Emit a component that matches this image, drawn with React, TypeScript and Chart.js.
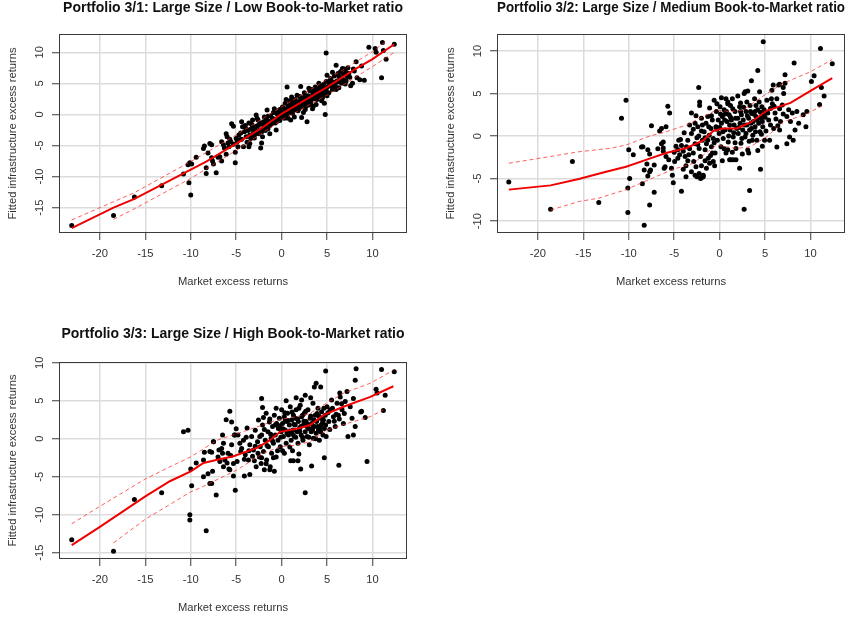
import React, { useEffect, useRef } from "react";
import { Chart, registerables } from "chart.js";
Chart.register(...registerables);

type P = [number, number];

const xTicks = [-20, -15, -10, -5, 0, 5, 10];
const yTicksP1 = [-15, -10, -5, 0, 5, 10];
const yTicksP2 = [-10, -5, 0, 5, 10];
const yTicksP3 = [-15, -10, -5, 0, 5, 10];

const titleP1 = "Portfolio 3/1: Large Size / Low Book-to-Market ratio";
const titleP2 = "Portfolio 3/2: Large Size / Medium Book-to-Market ratio";
const titleP3 = "Portfolio 3/3: Large Size / High Book-to-Market ratio";
const xTitle = "Market excess returns";
const yTitle = "Fitted infrastructure excess returns";

const p1Points: P[] = [
  [-23.1, -17.9], [-18.5, -16.3], [-16.2, -13.3], [-13.2, -11.5],
  [-10.8, -9.6], [-10.3, -8.1], [-10.1, -7.8], [-9.9, -8.0], [-10.2, -11.0], [-10.0, -13.0], [-9.4, -6.9],
  [-8.6, -5.5], [-8.5, -5.1], [-8.3, -8.6], [-8.3, -9.5], [-8.1, -6.2], [-7.9, -4.7], [-7.7, -4.9], [-7.7, -7.0],
  [-7.6, -7.5], [-7.5, -8.0], [-7.2, -9.4], [-7.0, -6.9],
  [-6.8, -6.8], [-6.6, -7.5], [-6.6, -4.4], [-6.3, -5.4], [-6.1, -3.1], [-6.0, -3.6], [-6.1, -6.4], [-5.8, -5.2],
  [-5.5, -1.5], [-5.3, -1.9], [-5.7, -4.0], [-5.6, -4.4], [-5.1, -6.1], [-5.1, -7.8], [-5.3, -4.8], [-5.0, -3.9],
  [-4.7, -3.3], [-4.6, -4.1], [-4.4, -1.2], [-4.3, -2.0], [-4.2, -5.2], [-4.1, -2.8], [-3.9, -3.6], [-3.8, -4.5],
  [-3.6, -5.2], [-3.5, -4.7], [-3.4, -2.4], [-3.3, -1.6], [-3.1, -3.0], [-3.0, -3.8], [-3.2, -0.9], [-2.9, -2.2],
  [-2.8, -0.1], [-2.7, -0.6], [-2.6, -1.8], [-2.5, -3.1], [-2.4, -2.5], [-2.3, -5.4], [-2.2, -4.6], [-2.2, -2.8],
  [-2.1, -3.6], [-2.0, -1.2], [-1.9, -0.4], [-1.8, -1.7], [-1.7, -0.6], [-1.6, 0.7], [-1.5, -2.3], [-1.4, -1.1],
  [-1.3, -3.1], [-1.2, -0.2], [-1.1, -1.5],
  [-4.0, -1.8], [-3.7, -2.6], [-3.5, -3.3], [-3.0, -2.6], [-2.6, -0.9], [-2.4, -1.4], [-1.9, -2.0], [-1.6, -1.1],
  [-1.0, -0.6], [-3.6, -1.4], [-2.9, -3.2], [-2.0, -2.4],
  [-0.9, 0.3], [-0.8, -0.8], [-0.7, -1.4], [-0.6, -2.5], [-0.5, 0.1], [-0.4, -0.5], [-0.3, 0.6], [-0.2, -1.0],
  [-0.1, 0.2], [0.0, -0.3], [0.1, 1.2], [0.2, 0.5], [0.3, -0.6], [0.4, 1.8], [0.5, 0.9], [0.6, 4.4], [0.6, -0.2],
  [0.7, 1.5], [0.8, 0.4], [0.9, 2.2], [1.0, -0.9], [1.0, 1.0], [-0.8, 0.9], [-0.3, -0.3], [0.3, 0.2], [0.7, -0.6],
  [1.1, 2.8], [1.2, 0.2], [1.3, 1.7], [1.4, -0.4], [1.5, 2.4], [1.6, 1.1], [1.7, 3.1], [1.8, 0.6], [1.9, 2.0],
  [2.0, 1.4], [2.1, 4.5], [2.2, -0.5], [2.3, 2.7], [2.4, 1.8], [2.5, 3.5], [2.6, 0.8], [2.7, 2.3], [2.8, -1.2],
  [2.9, 3.0], [3.0, 1.5], [1.2, 1.3], [1.6, 2.0], [2.0, 2.9], [2.4, 0.3], [2.8, 1.9], [1.5, 0.8],
  [3.1, 3.8], [3.2, 2.2], [3.3, 4.0], [3.4, 0.9], [3.5, 3.2], [3.6, 2.5], [3.7, 4.4], [3.8, 1.6], [3.9, 3.6],
  [4.0, 2.8], [4.1, 5.0], [4.2, 3.2], [4.3, 4.2], [4.4, 2.2], [4.5, 3.9], [4.6, 4.8], [4.7, 1.8], [4.8, 0.0],
  [4.8, 3.4], [4.9, 9.9], [4.9, 5.3], [3.3, 2.9], [3.7, 3.0], [4.1, 3.7], [4.5, 2.7], [3.0, 4.2], [3.5, 1.3],
  [5.1, 4.5], [5.2, 3.5], [5.4, 5.8], [5.6, 4.0], [5.8, 6.2], [5.9, 4.6], [6.0, 7.9], [6.1, 5.4], [6.2, 6.6],
  [6.3, 4.3], [6.4, 5.9], [6.5, 6.9], [6.6, 5.0], [6.7, 7.4], [6.8, 5.6], [6.9, 7.3], [7.0, 4.9], [7.2, 6.1],
  [5.3, 4.9], [5.0, 6.3], [5.7, 5.2], [6.0, 4.0],
  [7.3, 7.5], [7.5, 6.0], [7.6, 4.6], [7.8, 5.0], [8.0, 7.0], [8.2, 8.5], [8.3, 5.9], [8.6, 5.6], [9.1, 5.5],
  [8.8, 7.8], [9.6, 10.8], [10.3, 10.6], [10.4, 10.0], [11.0, 5.9], [11.1, 11.6], [11.2, 10.3], [11.5, 8.9],
  [12.4, 11.3], [7.1, 6.8], [7.9, 7.3],
  [-4.9, -4.4], [-4.5, -3.0], [-3.9, -2.3], [-3.4, -3.9], [-3.2, -2.0], [-2.7, -2.8], [-2.3, -1.6], [-1.8, -2.6],
  [-1.5, -0.3], [-1.3, -1.8], [-1.0, -1.3], [-0.7, 0.4], [-0.5, -1.1], [-0.2, 0.8], [0.0, 0.6], [0.2, -0.2],
  [0.4, 0.4], [0.5, 2.4], [0.8, 1.2], [1.0, 0.3], [1.1, 1.8], [1.3, 0.7], [1.4, 2.3], [1.7, 1.5], [1.9, 0.9],
  [2.1, 2.4], [2.2, 1.2], [2.5, 2.1], [2.6, 2.9], [2.7, 1.3], [2.9, 2.4], [3.1, 2.8], [3.2, 1.7], [3.4, 3.6],
  [3.6, 3.0], [3.8, 4.0], [3.9, 2.4], [4.0, 3.3], [4.2, 4.4], [4.4, 3.4], [4.6, 3.2], [4.7, 4.3], [4.9, 4.0],
  [5.0, 3.0], [5.2, 5.3], [5.5, 4.6], [5.8, 5.0], [6.2, 5.2], [6.5, 5.4], [6.8, 6.5], [7.1, 5.4], [7.4, 6.6],
  [5.6, 6.8], [6.3, 6.2], [-6.4, -4.9], [-5.9, -4.6], [-4.8, -5.2], [-4.4, -4.0], [-3.3, -3.5], [-2.8, -1.9],
];
const p1Fit: P[] = [
  [-23.1, -18.3], [-18.5, -15.0], [-16.2, -13.6], [-10, -8.9], [-8.3, -7.6], [-5, -4.7], [-2, -2.0],
  [0, 0.1], [2, 1.8], [5, 4.4], [8, 7.2], [10, 8.9], [12.4, 11.3],
];
const p1Upper: P[] = [
  [-23.1, -17.0], [-16.2, -12.6], [-10, -7.6], [-5, -3.3], [0, 1.2], [5, 5.6], [10, 10.1], [11.5, 11.8],
];
const p1Lower: P[] = [
  [-18.5, -16.9], [-16.2, -15.2], [-10, -10.3], [-5, -5.8], [0, -0.9], [5, 3.1], [10, 7.7], [12.4, 10.0],
];

const p2Points: P[] = [
  [-23.2, -5.4], [-18.6, -8.6], [-16.2, -3.0], [-13.3, -7.8], [-10.8, 2.1], [-10.3, 4.2], [-10.1, -9.0],
  [-10.0, -1.6], [-10.1, -6.1], [-9.9, -5.0], [-9.5, -2.2], [-8.6, -1.3], [-8.5, -5.6], [-8.3, -10.5],
  [-8.0, -3.3], [-7.9, -4.7], [-7.7, -8.1], [-7.7, -2.1], [-7.5, 1.2], [-7.6, -4.0], [-7.2, -6.6], [-6.6, 0.6],
  [-6.4, 0.9], [-6.4, -0.9], [-6.2, -1.4], [-6.1, -3.8], [-6.0, -3.6], [-5.9, 1.1], [-5.7, 3.5], [-5.5, 2.7],
  [-5.2, -4.6], [-5.1, -5.5], [-4.2, -6.5], [-3.7, -4.8], [-3.7, -3.5], [-3.1, 2.7], [-2.3, 5.7], [-2.2, 4.0],
  [-2.1, -5.0], [-1.8, -4.6], [-0.8, -2.0], [-0.55, -3.5], [0.7, 4.4], [0.9, 4.0], [1.2, 3.6], [1.1, -2.8],
  [1.5, -2.8], [1.8, -2.8], [2.2, -3.8], [2.7, -8.6], [2.8, 5.2], [3.1, 5.3], [3.3, -6.4], [3.5, 6.5],
  [4.2, 7.7], [4.2, -1.7], [4.5, -3.9], [4.8, 11.1], [5.7, 4.4], [5.9, 6.0], [6.3, -1.3], [6.6, 0.7], [6.6, 6.1],
  [7.0, 5.7], [7.2, 7.2], [7.4, -0.9], [7.7, -0.1], [8.1, -0.5], [8.2, 8.6], [8.5, 2.9], [8.7, 1.5], [9.2, 2.5],
  [9.5, 1.1], [10.1, 6.4], [10.4, 7.1], [11.0, 3.7], [11.1, 10.3], [11.2, 5.7], [11.5, 4.7], [12.4, 8.5],
  [8.0, 2.7], [8.3, 0.7], [7.8, 1.7], [9.6, 2.9],
  [-4.8, -1.2], [-4.6, -1.6], [-4.4, -2.2], [-4.2, -1.1], [-4.0, -1.8], [-3.8, -2.4], [-3.65, -1.25],
  [-3.5, -0.5], [-3.3, 1.3], [-3.1, 0.3], [-2.9, -2.0], [-2.85, -3.0], [-2.7, -0.9], [-2.6, -3.6], [-2.5, -0.2],
  [-2.4, 1.1], [-2.25, -1.45], [-2.2, 3.6], [-2.1, -2.4], [-2.0, 2.1], [-1.9, -0.5], [-1.8, -4.8], [-1.7, 0.5],
  [-1.6, -1.6], [-1.5, 1.5], [-1.45, -0.9], [-1.3, 2.3], [-1.25, -2.6], [-1.15, 0.1], [-1.1, 3.3], [-0.95, 0.9],
  [-0.9, -1.25], [-0.8, 1.9], [-0.7, -0.3], [-0.6, 4.2], [-0.5, -2.0], [-0.4, 1.1], [-0.35, 2.9], [-0.25, -0.5],
  [-0.15, 1.9], [-0.05, 0.3], [0.05, 3.45], [0.15, -1.25], [0.2, 1.5], [0.3, 2.3], [0.4, -0.3], [0.5, 3.1],
  [0.6, 0.7], [0.7, -2.0], [0.8, 1.7], [0.9, 3.8], [0.95, -0.7], [1.05, 2.5], [1.15, 0.7], [1.25, -2.8],
  [1.3, 1.9], [1.4, 4.4], [1.5, -0.1], [1.6, 1.3], [1.7, 2.9], [1.8, -1.45], [1.9, 0.9], [2.0, 2.1], [2.05, 0.3],
  [2.2, 3.45], [2.25, 1.5], [2.35, -0.85], [2.4, 2.5], [2.55, 0.7], [2.6, 1.9], [2.7, 5.0], [2.8, -0.1],
  [2.9, 2.9], [3.0, 1.3], [3.1, -1.65], [3.2, 2.1], [3.3, 0.7], [3.35, 3.6], [3.45, 1.5], [3.55, 2.65],
  [3.65, 0.1], [3.7, 1.7], [3.85, 4.4], [3.9, 1.1], [4.0, 2.3], [4.1, -0.5], [4.2, 3.1], [4.3, 1.5], [4.4, 5.2],
  [4.45, 0.5], [4.6, 2.1], [4.65, 3.45], [4.75, 1.1], [4.85, 2.5], [4.95, -0.5],
  [5.2, 4.2], [5.4, 1.9], [5.6, 3.25], [5.75, 5.4], [5.95, 0.9], [6.1, 2.7], [6.3, 4.4], [6.5, 6.0], [6.7, 1.7],
  [6.9, 3.65], [7.05, 5.0], [7.2, 6.2], [7.4, 2.3], [7.6, 3.1],
  [-3.1, -4.2], [-2.7, -4.6], [-2.5, -4.8], [-2.25, -4.4], [-2.0, -4.9], [-1.45, -3.8], [-1.1, -3.2],
  [-8.45, -1.25], [-7.9, -1.6], [-6.2, -0.7], [-7.7, -4.2], [-7.2, -3.4], [-8.3, -4.0], [-6.2, -1.8],
  [-5.9, -2.4], [-5.3, -3.8], [-4.95, -3.0], [-4.6, -2.6],
  [0.3, -2.9], [0.9, -1.6], [1.7, -0.8], [2.3, 3.9], [2.9, 0.3], [3.6, -0.5], [4.0, 3.6], [4.6, 0.2],
  [3.9, 2.9], [1.1, 1.3], [0.6, 2.6], [-0.3, 0.8], [-1.3, -0.5], [-2.0, 0.6], [-2.7, 1.5], [-3.5, -2.9],
  [-4.3, -0.4], [5.0, 2.2], [5.5, -0.5], [6.0, 3.5], [6.4, 1.2], [2.5, -2.1], [3.2, -2.0], [4.7, -1.2],
  [-2.9, 0.8], [-2.4, -1.0], [-2.3, 0.0], [-1.9, 1.3], [-1.6, -0.2], [-1.2, 1.1], [-0.9, 2.4], [-0.6, -0.8],
  [-0.3, 3.8], [0.0, 1.0], [0.1, 2.6], [0.35, 0.5], [0.55, 1.9], [0.75, 2.9], [1.0, 0.0], [1.2, 2.2],
  [1.45, 3.2], [1.55, 0.4], [1.75, 2.1], [2.1, 1.0], [2.3, 2.9], [2.45, -0.3], [2.65, 3.4], [2.75, 1.3],
  [3.05, 2.4], [3.25, -0.6], [3.4, 2.9], [3.5, 0.9], [3.75, 2.6], [3.95, 0.5], [4.15, 1.9], [4.35, 4.0],
  [4.5, 2.8], [4.7, 1.7], [4.9, 3.1], [5.1, 0.6], [5.3, 2.7], [5.6, 1.3], [5.8, 3.8], [6.2, 2.0], [6.6, 3.2],
  [7.0, 2.6], [-3.9, 0.4], [-4.5, -0.5], [-3.3, -1.5], [-2.0, -3.5], [-1.6, -2.9], [-0.7, -3.0], [0.5, -1.5],
  [1.4, -1.9], [-4.0, -3.9], [-3.4, -2.2], [-5.0, -1.9], [-5.6, -2.8], [-6.8, -1.5], [-2.6, 2.4], [-1.0, -2.3],
  [0.2, 4.5], [2.0, 4.7], [3.0, 4.0],
];
const p2Fit: P[] = [
  [-23.2, -6.3], [-18.6, -5.8], [-15.5, -5.05], [-12.5, -4.2], [-10.3, -3.6], [-8.1, -2.8], [-5.9, -2.0],
  [-4.4, -1.6], [-3.65, -1.4], [-1.8, -0.5], [-0.7, 0.6], [0.4, 0.9], [1.9, 0.9], [3.4, 1.6], [5.2, 3.0],
  [7.8, 3.9], [10, 5.3], [12.4, 6.8],
];
const p2Upper: P[] = [
  [-23.2, -3.2], [-18.6, -2.4], [-15.5, -1.85], [-12.1, -1.45], [-10.3, -1.06], [-7.7, 0.0], [-5.9, 0.5],
  [-3.65, 1.3], [-1.07, 2.67], [-0.33, 3.06], [1.14, 2.86], [2.58, 3.06], [4.1, 4.2], [5.2, 5.0], [7.0, 6.2],
  [10.0, 7.56], [12.4, 9.0],
];
const p2Lower: P[] = [
  [-18.6, -8.7], [-15.5, -7.7], [-13.3, -7.3], [-10.3, -6.3], [-7.5, -5.0], [-5.1, -3.9], [-2.9, -3.2],
  [-1.07, -1.65], [-0.33, -1.06], [0.78, -1.26], [1.9, -1.45], [3.36, -1.26], [5.2, -0.08], [7.0, 1.68],
  [9.26, 2.47], [11.5, 3.65],
];

const p3Points: P[] = [
  [-23.1, -13.3], [-18.5, -14.8], [-16.2, -8.0], [-13.2, -7.1], [-10.8, 0.9], [-10.3, 1.1], [-10.1, -10.0],
  [-10.1, -10.7], [-10.0, -4.0], [-9.9, -6.2], [-9.4, -3.2], [-8.6, -5.0], [-8.5, -1.8], [-8.3, -12.1],
  [-8.1, -4.6], [-7.9, -5.9], [-7.7, -5.9], [-7.7, -1.8], [-7.6, -4.3], [-7.5, -0.4], [-7.2, -7.4],
  [-6.8, -3.0], [-6.5, 0.5], [-6.5, -1.9], [-6.4, -0.6], [-6.1, 2.5], [-5.8, -4.0], [-5.7, 3.6], [-5.5, 2.2],
  [-5.3, -4.9], [-5.2, 0.5], [-5.1, -6.8], [-5.0, 1.3], [-4.9, -3.0], [-4.1, -4.9], [-3.5, -4.7], [-2.2, 5.3],
  [-2.1, 4.1], [-1.3, -4.1], [-0.8, -4.3], [1.0, -2.9], [1.3, -2.9], [1.8, -2.9], [1.9, -2.0], [1.6, 5.4],
  [2.1, -4.0], [2.6, -7.1], [2.6, 5.7], [3.2, 5.4], [3.3, -3.6], [3.6, 6.8], [3.8, 7.3], [4.3, 6.8],
  [4.7, -2.5], [4.85, 8.9], [6.3, -3.5], [6.4, 6.0], [7.3, 0.3], [7.9, 0.5], [8.1, 7.7], [8.2, 9.2], [8.7, 3.5],
  [9.2, 2.8], [9.4, -3.0], [10.4, 6.5], [11.0, 9.1], [11.2, 3.7], [11.4, 5.7], [12.4, 8.8],
  [8.1, 1.6], [8.8, 3.6], [10.5, 6.0],
  [-4.8, 0.5], [-4.6, -0.6], [-4.4, -1.3], [-4.2, -0.2], [-4.0, -2.1], [-3.8, 1.4], [-3.65, -2.8], [-3.5, -0.8],
  [-3.3, 0.3], [-3.1, -1.5], [-2.9, 1.1], [-2.8, -3.7], [-2.65, -0.4], [-2.55, 2.45], [-2.45, -2.4],
  [-2.35, -1.05], [-2.25, -3.25], [-2.2, 0.5], [-2.1, 1.8], [-2.0, -1.7], [-1.9, -4.1], [-1.8, -0.2],
  [-1.7, 3.35], [-1.65, -2.8], [-1.5, 0.9], [-1.45, -1.05], [-1.35, 2.2], [-1.25, -3.7], [-1.15, 0.05],
  [-1.1, -1.9], [-1.0, 1.6], [-0.9, -0.6], [-0.8, 3.1], [-0.7, 0.5], [-0.6, -2.4], [-0.55, 2.0], [-0.4, -0.2],
  [-0.35, 1.35], [-0.25, 2.7], [-0.15, -1.05], [-0.05, 0.9], [0.0, 3.8], [0.1, 2.0], [0.2, 0.3], [0.3, 2.9],
  [0.4, 1.15], [0.5, -0.6], [0.55, 2.25], [0.65, 3.35], [0.75, 0.5], [0.85, 1.8], [0.95, 4.2], [1.05, -0.2],
  [1.1, 2.45], [1.25, 1.15], [1.3, 3.1], [1.4, 0.3], [1.5, 1.8], [1.6, 3.8], [1.7, 0.9], [1.8, -0.6],
  [1.85, 2.25], [1.95, 1.35], [2.05, 4.4], [2.15, 0.5], [2.2, 2.9], [2.35, -0.2], [2.4, 1.8], [2.5, 3.35],
  [2.6, 0.9], [2.7, 2.25], [2.8, 0.3], [2.9, 3.8], [2.95, 1.35], [3.05, -0.8], [3.15, 2.7], [3.25, 0.9],
  [3.3, 2.0], [3.45, 4.65], [3.5, 0.05], [3.6, 1.6], [3.7, 3.1], [3.8, 0.7], [3.85, 2.25], [4.0, 4.0],
  [4.05, 1.15], [4.15, -0.2], [4.25, 2.7], [4.35, 1.8], [4.4, 3.55], [4.55, 0.5], [4.6, 2.45], [4.7, 1.35],
  [4.8, 3.1], [4.9, 0.3], [5.0, 4.2],
  [5.2, 2.25], [5.35, 3.8], [5.5, 5.1], [5.7, 2.9], [5.9, 1.6], [6.1, 4.65], [6.25, 3.1], [6.45, 5.5],
  [6.65, 3.8], [6.8, 2.0], [7.0, 4.9], [7.2, 6.2], [7.55, 4.2], [7.75, 2.7], [7.9, 5.3],
  [-8.6, -2.8], [-7.9, -1.7], [-7.5, -0.4], [-7.0, -2.4], [-6.6, -1.3], [-6.25, -2.8], [-5.9, -1.9],
  [-5.5, -0.8], [-5.3, -3.25], [-5.15, 0.5], [-5.7, -4.1], [-6.4, -3.7],
  [0.4, 2.4], [1.2, 0.6], [2.0, 1.0], [2.8, 1.6], [3.4, 1.1], [4.2, 1.4], [0.9, -1.1], [-0.2, 1.7],
  [-1.2, 0.6], [-2.6, -1.9], [-3.2, -2.3], [1.5, 2.7], [2.3, 3.1], [3.9, 3.3], [4.5, 2.1], [0.1, -1.6],
  [-2.9, -1.0], [-2.4, 0.3], [-2.2, -2.5], [-1.9, 1.2], [-1.6, -0.9], [-1.3, 2.6], [-1.0, -0.3], [-0.7, 1.8],
  [-0.45, -1.6], [-0.1, 0.2], [0.15, 1.3], [0.35, 3.4], [0.6, 0.7], [0.7, 2.4], [0.9, 1.0], [1.15, 3.5],
  [1.35, 1.9], [1.55, 0.2], [1.75, 2.6], [1.9, 4.0], [2.1, 1.6], [2.3, 0.2], [2.45, 2.3], [2.65, 3.6],
  [2.85, 1.9], [3.0, 0.2], [3.2, 3.0], [3.4, 1.4], [3.55, 2.5], [3.75, 0.0], [3.95, 1.6], [4.1, 3.0],
  [4.3, 0.9], [4.5, 2.6], [4.65, 4.0], [4.85, 1.8], [5.1, 3.4], [5.3, 1.2], [5.6, 4.0], [5.8, 2.3], [6.0, 3.2],
  [6.35, 2.6], [6.6, 4.6], [6.9, 3.3], [-3.6, -1.6], [-4.1, -2.7], [-3.0, -2.9], [-4.5, -1.7], [-5.6, -2.2],
  [-6.0, -3.2], [-1.7, -3.3], [-0.9, -2.5], [0.3, -1.9], [1.2, -1.6], [-3.9, 0.2], [-2.0, 2.8], [-0.6, 4.0],
  [0.5, 5.0], [2.2, 5.1], [-6.9, -1.5],
];
const p3Fit: P[] = [
  [-23.1, -14.0], [-20, -11.6], [-15, -7.6], [-12.3, -5.6], [-10, -4.3], [-8.6, -3.2], [-7.2, -2.8],
  [-5.3, -2.3], [-3.2, -1.4], [-2.7, -1.2], [-1.27, -0.2], [-0.17, 0.9], [1.68, 1.3], [3.14, 1.8], [4.6, 3.1],
  [6.8, 4.2], [9.76, 5.5], [12.3, 6.9],
];
const p3Upper: P[] = [
  [-23.1, -11.2], [-20, -8.9], [-15, -5.3], [-12.3, -3.7], [-10, -2.4], [-7.1, -0.2], [-3.8, 1.1],
  [-0.53, 2.46], [0.57, 2.68], [1.68, 2.9], [3.14, 3.34], [4.6, 4.43], [6.8, 5.97], [9.76, 7.3], [12.3, 9.0],
];
const p3Lower: P[] = [
  [-18.5, -13.7], [-15, -10.6], [-10, -7.0], [-9.0, -6.5], [-4.9, -4.1], [-2.0, -1.9], [-0.17, -1.05],
  [1.68, -0.83], [3.14, -0.39], [5.0, 1.14], [7.2, 2.0], [9.76, 2.9], [11.2, 3.8],
];

const FONT = "'Liberation Sans', Arial, Helvetica, sans-serif";

const boxPlugin = {
  id: "plotBox",
  afterDraw(chart: any) {
    const { ctx, chartArea: a } = chart;
    ctx.save();
    ctx.strokeStyle = "#3a3a3a";
    ctx.lineWidth = 1;
    const l = Math.round(a.left) + 0.5;
    const t = Math.round(a.top) + 0.5;
    const r = Math.round(a.right) - 0.5;
    const b = Math.round(a.bottom) - 0.5;
    ctx.strokeRect(l, t, r - l, b - t);
    ctx.restore();
  },
};

interface PanelProps {
  left: number;
  top: number;
  width: number;
  height: number;
  padL: number;
  padR: number;
  titlePadTop: number;
  titlePadBottom: number;
  title: string;
  points: P[];
  fit: P[];
  upper: P[];
  lower: P[];
  yMin: number;
  yMax: number;
  yTicks: number[];
}

function Panel(props: PanelProps) {
  const ref = useRef<HTMLCanvasElement | null>(null);
  useEffect(() => {
    if (!ref.current) return;
    const toXY = (arr: P[]) => arr.map(([x, y]) => ({ x, y }));
    const tickFont = { family: FONT, size: 11.2 };
    const band = {
      showLine: true,
      pointRadius: 0,
      borderColor: "rgba(255,40,40,0.75)",
      borderWidth: 1,
      borderDash: [4, 3],
      order: 0,
    };
    const chart = new Chart(ref.current, {
      type: "scatter",
      data: {
        datasets: [
          {
            data: toXY(props.fit),
            showLine: true,
            pointRadius: 0,
            borderColor: "rgb(240,0,0)",
            borderWidth: 2,
            order: 0,
          } as any,
          { ...band, data: toXY(props.upper) } as any,
          { ...band, data: toXY(props.lower) } as any,
          {
            data: toXY(props.points),
            showLine: false,
            pointRadius: 2.5,
            pointBackgroundColor: "#000",
            pointBorderWidth: 0,
            order: 1,
          } as any,
        ],
      },
      options: {
        animation: false,
        responsive: false,
        devicePixelRatio: 1,
        events: [],
        layout: { padding: { left: props.padL, right: props.padR, top: 0, bottom: 0 } },
        plugins: {
          legend: { display: false },
          tooltip: { enabled: false },
          title: {
            display: true,
            text: props.title,
            fullSize: false,
            color: "#111",
            font: { family: FONT, size: 14, weight: "bold", lineHeight: 1.2 },
            padding: { top: props.titlePadTop, bottom: props.titlePadBottom },
          },
        },
        scales: {
          x: {
            type: "linear",
            position: "bottom",
            min: -24.5,
            max: 13.8,
            afterBuildTicks: (s: any) => {
              s.ticks = xTicks.map((v) => ({ value: v }));
            },
            afterFit: (s: any) => {
              s.height = 60;
            },
            border: { display: false },
            grid: {
              color: "#dcdcdc",
              lineWidth: 1.5,
              drawTicks: true,
              tickLength: 7,
              tickColor: "#3a3a3a",
              tickWidth: 1,
            },
            ticks: {
              font: tickFont,
              color: "#333",
              padding: 7,
              maxRotation: 0,
              autoSkip: false,
              callback: (v: any) => String(v),
            },
            title: {
              display: true,
              text: xTitle,
              color: "#333",
              font: { family: FONT, size: 11.2, lineHeight: 1.2 },
              padding: { top: 0, bottom: 4.3 },
            },
          },
          y: {
            type: "linear",
            position: "left",
            min: props.yMin,
            max: props.yMax,
            afterBuildTicks: (s: any) => {
              s.ticks = props.yTicks.map((v) => ({ value: v }));
            },
            afterFit: (s: any) => {
              s.width = 59;
            },
            border: { display: false },
            grid: {
              color: "#dcdcdc",
              lineWidth: 1.5,
              drawTicks: true,
              tickLength: 7,
              tickColor: "#3a3a3a",
              tickWidth: 1,
            },
            ticks: {
              font: tickFont,
              color: "#333",
              padding: 4,
              minRotation: 90,
              maxRotation: 90,
              crossAlign: "center",
              autoSkip: false,
              callback: (v: any) => String(v),
            },
            title: {
              display: true,
              text: yTitle,
              color: "#333",
              font: { family: FONT, size: 11.2, lineHeight: 1.2 },
              padding: { top: 6, bottom: 0 },
            },
          },
        },
      } as any,
      plugins: [boxPlugin],
    });
    return () => chart.destroy();
  }, []);
  return (
    <canvas
      ref={ref}
      width={props.width}
      height={props.height}
      style={{
        position: "absolute",
        left: props.left,
        top: props.top,
        width: props.width,
        height: props.height,
        display: "block",
      }}
    />
  );
}

export default function App() {
  return (
    <div
      style={{
        position: "absolute",
        left: 0,
        top: 0,
        width: 859,
        height: 619,
        background: "#fff",
        overflow: "hidden",
      }}
    >
      <Panel
        left={0}
        top={0}
        width={430}
        height={293}
        padL={0}
        padR={23}
        titlePadTop={0}
        titlePadBottom={17.2}
        title={titleP1}
        points={p1Points}
        fit={p1Fit}
        upper={p1Upper}
        lower={p1Lower}
        yMin={-19.1}
        yMax={12.95}
        yTicks={yTicksP1}
      />
      <Panel
        left={430}
        top={0}
        width={429}
        height={293}
        padL={8}
        padR={14}
        titlePadTop={0}
        titlePadBottom={17.2}
        title={titleP2}
        points={p2Points}
        fit={p2Fit}
        upper={p2Upper}
        lower={p2Lower}
        yMin={-11.4}
        yMax={12.0}
        yTicks={yTicksP2}
      />
      <Panel
        left={0}
        top={320}
        width={430}
        height={299}
        padL={0}
        padR={23}
        titlePadTop={5.6}
        titlePadBottom={19.6}
        title={titleP3}
        points={p3Points}
        fit={p3Fit}
        upper={p3Upper}
        lower={p3Lower}
        yMin={-15.83}
        yMax={10.09}
        yTicks={yTicksP3}
      />
    </div>
  );
}
